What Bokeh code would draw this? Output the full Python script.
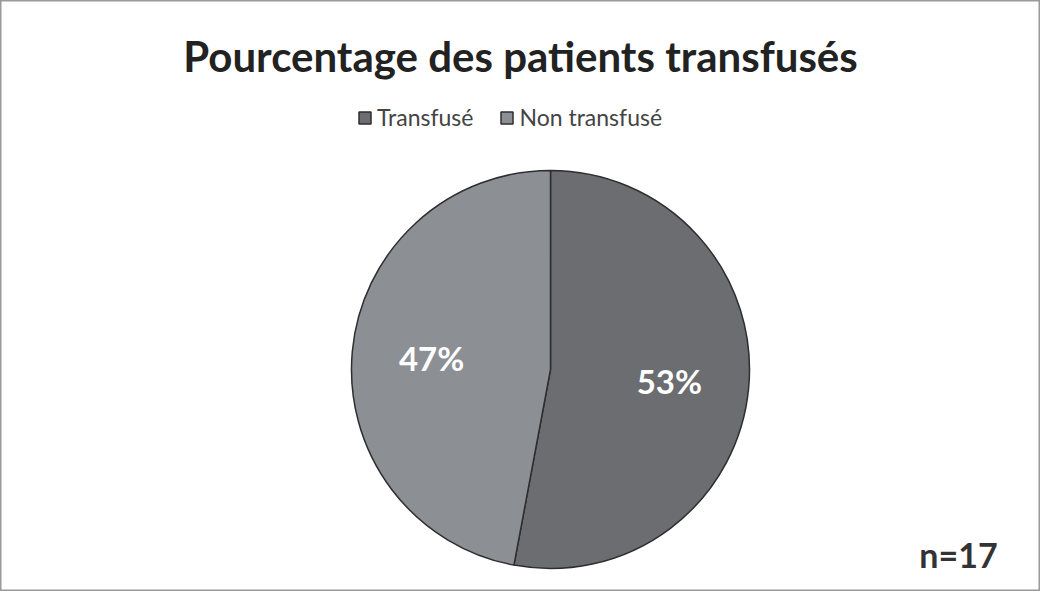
import math
from bokeh.plotting import figure
from bokeh.models import ColumnDataSource, Range1d, Legend, LegendItem, Label
from bokeh.core.properties import value
from bokeh.embed import file_html
from bokeh.resources import INLINE

# ---- data ----
categories = ["Transfusé", "Non transfusé"]
counts = [9, 8]
n_total = 17
colors = ["#6b6d70", "#8c9095"]
title_text = "Pourcentage des patients transfusés"

W, H = 1040, 591
p = figure(width=W, height=H, output_backend="svg", toolbar_location=None,
           x_range=Range1d(0, W), y_range=Range1d(0, H), min_border=0,
           match_aspect=False)
p.axis.visible = False
p.grid.visible = False
p.outline_line_color = "#9a9a9a"
p.outline_line_width = 2
p.background_fill_color = "white"
p.border_fill_color = "white"

cx, cy, r = 550, 222, 199
total = sum(counts)
fracs = [c / total for c in counts]

# clockwise from top
starts, ends, lx, ly, labels = [], [], [], [], []
acc = 0.0
for f in fracs:
    a0 = math.pi / 2 - 2 * math.pi * (acc + f)
    a1 = math.pi / 2 - 2 * math.pi * acc
    starts.append(a0)
    ends.append(a1)
    mid = (a0 + a1) / 2
    lx.append(cx + 0.6 * r * math.cos(mid))
    ly.append(cy + 0.6 * r * math.sin(mid))
    labels.append(f"{round(f * 100)}%")
    acc += f

src = ColumnDataSource(dict(cat=categories, start=starts, end=ends, color=colors,
                            lx=lx, ly=ly, lab=labels))
wr = p.wedge(x=cx, y=cy, radius=r, start_angle="start", end_angle="end",
             fill_color="color", line_color="#2e2e2e", line_width=1.5, source=src)

p.text(x="lx", y="ly", text="lab", source=src, text_color="white",
       text_font=value("Lato"), text_font_style="bold", text_font_size="33px",
       text_align="center", text_baseline="middle")

legend = Legend(items=[LegendItem(label=categories[i], renderers=[wr], index=i) for i in range(2)],
                orientation="horizontal", location=(357, 460),
                label_text_font="Lato", label_text_font_size="23px",
                label_text_color="#444444", glyph_width=15, glyph_height=15,
                spacing=26, label_standoff=5, padding=0, margin=0,
                background_fill_alpha=0, border_line_alpha=0)
p.add_layout(legend, "center")

p.add_layout(Label(x=W / 2, y=H - 55, text=title_text, text_font="Lato",
                   text_font_style="bold", text_font_size="42px", text_color="#222222",
                   text_align="center", text_baseline="middle"))
p.add_layout(Label(x=958, y=37, text=f"n={n_total}", text_font="Lato",
                   text_font_style="bold", text_font_size="34px", text_color="#333333",
                   text_align="center", text_baseline="middle"))

open("out.html", "w").write(file_html(p, INLINE))
